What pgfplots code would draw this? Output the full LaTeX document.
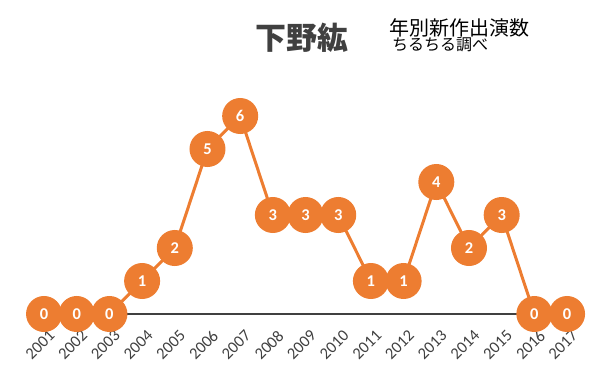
\documentclass[border=0pt]{standalone}
\usepackage{fontspec}
\setmainfont{Carlito}
\newfontfamily\cjk{Noto Sans CJK JP}
\usepackage{pgfplots}
\pgfplotsset{compat=1.18}
\definecolor{lineorange}{HTML}{ED7D31}
\definecolor{axgray}{HTML}{404040}
\begin{document}
\begin{tikzpicture}
\path[use as bounding box] (0,0) rectangle (604bp,375bp);
\begin{axis}[
  at={(27.7bp,61bp)}, anchor=south west,
  scale only axis, width=555.7bp, height=198bp,
  xmin=2000.5, xmax=2017.5, ymin=0, ymax=6,
  clip=false,
  axis x line*=bottom, axis y line=none,
  x axis line style={-, axgray, line width=2bp},
  xtick={2001,...,2017}, major tick length=0pt,
  /pgf/number format/.cd, 1000 sep={}, assume math mode=true,
  /pgfplots/.cd,
  xticklabel style={xshift=4bp, yshift=-15bp, rotate=45, anchor=north east, font=\fontsize{16.5bp}{18bp}\selectfont, text=axgray, inner sep=0pt},
  nodes near coords,
  every node near coord/.style={anchor=center, text=white, font=\fontsize{16.5bp}{18bp}\selectfont\bfseries},
]
\addplot[color=lineorange, line width=3bp, mark=*, mark size=16.5bp, mark options={fill=lineorange, draw=none}] coordinates {
(2001,0) (2002,0) (2003,0) (2004,1) (2005,2) (2006,5) (2007,6) (2008,3) (2009,3) (2010,3) (2011,1) (2012,1) (2013,4) (2014,2) (2015,3) (2016,0) (2017,0)
};
\end{axis}
\node[text=axgray, font=\cjk\bfseries\fontsize{31bp}{33bp}\selectfont] at (302bp,337bp) {下野紘};
\node[anchor=west, inner sep=0pt, font=\cjk\fontsize{20bp}{22bp}\selectfont] at (389bp,347bp) {年別新作出演数};
\node[anchor=west, inner sep=0pt, font=\cjk\fontsize{16bp}{18bp}\selectfont] at (392bp,330bp) {ちるちる調べ};
\end{tikzpicture}
\end{document}
